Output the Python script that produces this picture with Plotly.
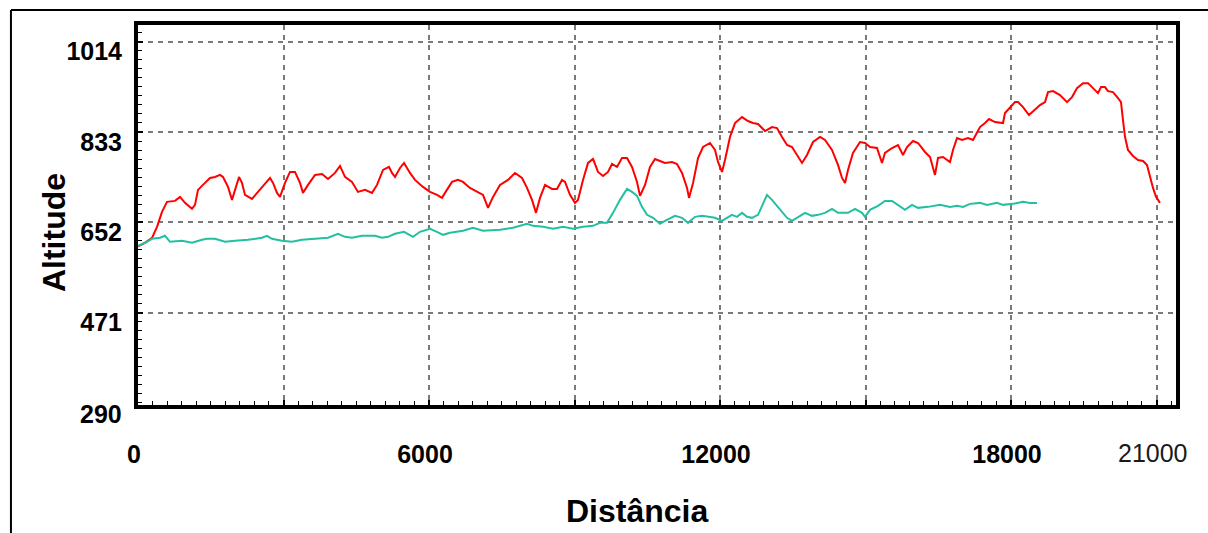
import plotly.graph_objects as go

# Red profile (distance in m, altitude in m)
red_x = [0, 144, 289, 392, 495, 598, 763, 866, 969, 1113,
         1175, 1237, 1340, 1485, 1588, 1691, 1753, 1856, 1938, 2000,
         2083, 2144, 2206, 2351, 2474, 2619, 2722, 2784, 2866, 2928,
         3031, 3134, 3237, 3340, 3402, 3505, 3650, 3794, 3918, 4062,
         4165, 4268, 4412, 4536, 4681, 4825, 4928, 5052, 5175, 5237,
         5299, 5402, 5485, 5608, 5711, 5876, 6021, 6165, 6268, 6330,
         6474, 6598, 6701, 6845, 6990, 7114, 7217, 7320, 7464, 7629,
         7773, 7918, 8021, 8124, 8206, 8289, 8392, 8536, 8639, 8742,
         8804, 8907, 9010, 9072, 9175, 9279, 9382, 9485, 9588, 9691,
         9773, 9876, 9980, 10083, 10186, 10289, 10351, 10454, 10557, 10660,
         10763, 10866, 11010, 11113, 11217, 11320, 11361, 11444, 11547, 11650,
         11794, 11897, 11959, 12041, 12103, 12206, 12309, 12454, 12577, 12680,
         12784, 12928, 13072, 13175, 13279, 13382, 13485, 13588, 13691, 13794,
         13918, 14062, 14165, 14309, 14433, 14516, 14578, 14639, 14742, 14887,
         14990, 15093, 15237, 15340, 15402, 15547, 15670, 15773, 15856, 15980,
         16083, 16227, 16330, 16433, 16495, 16598, 16742, 16804, 16887, 16990,
         17114, 17217, 17299, 17361, 17464, 17547, 17670, 17835, 17876, 17980,
         18083, 18145, 18248, 18371, 18495, 18598, 18701, 18763, 18866, 19010,
         19155, 19258, 19361, 19485, 19588, 19691, 19794, 19856, 19938, 20000,
         20103, 20206, 20268, 20309, 20351, 20412, 20515, 20619, 20722, 20804,
         20866, 20928, 20990, 21072]
red_y = [604, 611, 621, 643, 673, 693, 695, 703, 691, 679,
         687, 717, 727, 741, 743, 747, 743, 723, 697, 717,
         743, 731, 707, 699, 713, 731, 741, 731, 711, 703,
         731, 753, 753, 731, 711, 727, 747, 749, 739, 751,
         765, 743, 733, 713, 717, 711, 727, 757, 763, 751,
         743, 761, 771, 751, 737, 723, 713, 707, 701, 711,
         733, 737, 733, 721, 713, 707, 681, 703, 727, 737,
         751, 741, 721, 697, 671, 701, 727, 719, 719, 737,
         733, 707, 691, 697, 737, 771, 779, 753, 745, 753,
         769, 763, 781, 781, 763, 733, 705, 727, 763, 779,
         775, 771, 773, 769, 751, 721, 701, 731, 781, 803,
         811, 797, 773, 753, 777, 823, 851, 863, 855, 851,
         849, 835, 843, 841, 823, 807, 803, 787, 771, 787,
         813, 823, 817, 797, 767, 741, 731, 757, 791, 813,
         811, 803, 801, 771, 791, 801, 807, 787, 803, 815,
         811, 793, 783, 747, 781, 783, 773, 797, 821, 817,
         821, 817, 831, 843, 851, 859, 853, 851, 871, 881,
         893, 893, 883, 867, 877, 887, 893, 913, 915, 907,
         893, 903, 921, 931, 931, 921, 911, 923, 923, 915,
         913, 901, 893, 857, 823, 797, 785, 777, 775, 767,
         743, 721, 703, 691]

# Teal profile
teal_x = [0, 144, 289, 454, 557, 660, 907, 1113, 1320, 1423,
          1588, 1794, 2000, 2268, 2557, 2660, 2763, 2969, 3175, 3381,
          3650, 3918, 4124, 4268, 4412, 4619, 4887, 5031, 5155, 5299,
          5485, 5670, 5814, 6021, 6165, 6289, 6433, 6701, 6907, 7114,
          7464, 7732, 8021, 8144, 8351, 8557, 8763, 8969, 9175, 9382,
          9526, 9670, 9794, 9938, 10083, 10186, 10289, 10392, 10495, 10619,
          10763, 10866, 11072, 11217, 11340, 11485, 11629, 11753, 11897, 12041,
          12144, 12247, 12351, 12454, 12557, 12660, 12784, 12887, 12969, 13072,
          13196, 13279, 13382, 13485, 13608, 13753, 13897, 14021, 14165, 14309,
          14433, 14639, 14784, 14928, 14990, 15093, 15258, 15402, 15547, 15670,
          15814, 15959, 16083, 16289, 16412, 16536, 16742, 16887, 17010, 17155,
          17361, 17505, 17711, 17835, 18041, 18248, 18392, 18536]
teal_y = [605, 611, 619, 621, 625, 613, 615, 611, 617, 619,
          619, 613, 615, 617, 621, 625, 619, 615, 613, 617,
          619, 621, 629, 623, 621, 625, 625, 621, 623, 629,
          633, 623, 633, 639, 633, 627, 631, 635, 641, 635,
          637, 641, 649, 645, 643, 639, 643, 639, 643, 645,
          651, 651, 671, 697, 719, 713, 705, 683, 667, 661,
          649, 655, 665, 661, 651, 663, 665, 663, 661, 655,
          661, 667, 663, 671, 663, 661, 667, 691, 707, 697,
          683, 673, 661, 655, 663, 671, 665, 667, 671, 679,
          671, 671, 679, 671, 663, 677, 685, 695, 695, 687,
          677, 687, 681, 683, 685, 687, 683, 685, 683, 689,
          691, 687, 691, 687, 689, 693, 691, 691]

y_grid_ticks = [471, 652, 833, 1014]
y_bottom_label = 290
x_ticks = [0, 3000, 6000, 9000, 12000, 15000, 18000, 21000]
x_ticktext = ["0", "", "6000", "", "12000", "", "18000", ""]

RED = "#ff0000"
TEAL = "#22c0a0"
GRID = "#7a7a7a"
FONT_FAMILY = "Liberation Sans, Arial, sans-serif"
TICKFONT = dict(family=FONT_FAMILY, size=25, color="black", weight="bold")

fig = go.Figure()
fig.add_trace(go.Scatter(x=red_x, y=red_y, mode="lines",
                         line=dict(color=RED, width=2), hoverinfo="skip"))
fig.add_trace(go.Scatter(x=teal_x, y=teal_y, mode="lines",
                         line=dict(color=TEAL, width=2), hoverinfo="skip"))

fig.update_layout(
    width=1208, height=533,
    margin=dict(l=138, r=32, t=25, b=128, pad=0),
    paper_bgcolor="white", plot_bgcolor="white",
    showlegend=False,
)

fig.update_xaxes(
    range=[0, 21402],
    tickmode="array", tickvals=x_ticks, ticktext=x_ticktext,
    ticks="inside", ticklen=5, tickwidth=1.5, tickcolor="black",
    showline=True, linewidth=4, linecolor="black", mirror=True,
    showgrid=True, gridcolor=GRID, gridwidth=1.5, griddash="5px,5px",
    zeroline=False,
    minor=dict(tick0=0, dtick=300, ticks="inside", ticklen=4, tickwidth=1,
               tickcolor="black", showgrid=False),
    tickfont=TICKFONT,
    ticklabelstandoff=24, ticklabelshift=-4,
)
fig.update_yaxes(
    range=[285.9, 1047.5],
    tickmode="array", tickvals=y_grid_ticks, ticktext=[str(v) for v in y_grid_ticks],
    ticks="inside", ticklen=5, tickwidth=1.5, tickcolor="black",
    showline=True, linewidth=4, linecolor="black", mirror=True,
    showgrid=True, gridcolor=GRID, gridwidth=1.5, griddash="5px,5px",
    zeroline=False,
    minor=dict(tick0=290, dtick=18.1, ticks="inside", ticklen=4, tickwidth=1,
               tickcolor="black", showgrid=False),
    tickfont=TICKFONT,
    ticklabelstandoff=7, ticklabelshift=10,
)

# Bottom y label (no grid line drawn there in the reference)
fig.add_annotation(text=str(y_bottom_label), xref="paper", yref="y",
                   x=-0.0135, y=y_bottom_label, xanchor="right", yanchor="middle",
                   yshift=-11, showarrow=False, font=TICKFONT)

# Axis titles
fig.add_annotation(text="Altitude", xref="paper", yref="paper",
                   x=-0.0809, y=0.4526, xanchor="center", yanchor="middle",
                   textangle=-90, showarrow=False,
                   font=dict(family=FONT_FAMILY, size=32, color="black", weight="bold"))
fig.add_annotation(text="Distância", xref="paper", yref="paper",
                   x=0.4807, y=-0.279, xanchor="center", yanchor="middle",
                   showarrow=False,
                   font=dict(family=FONT_FAMILY, size=32, color="black", weight="bold"))
# Last x label in a different (regular) font
fig.add_annotation(text="21000", xref="x", yref="paper",
                   x=21000, y=-0.125, xanchor="center", yanchor="middle",
                   xshift=-4, showarrow=False,
                   font=dict(family=FONT_FAMILY, size=25, color="#1a1a1a"))

# Outer frame lines (top and left)
fig.add_shape(type="line", xref="paper", yref="paper",
              x0=-0.1224, x1=1.04, y0=1.0395, y1=1.0395,
              line=dict(color="black", width=2))
fig.add_shape(type="line", xref="paper", yref="paper",
              x0=-0.1224, x1=-0.1224, y0=1.0395, y1=-0.35,
              line=dict(color="black", width=2))

fig.write_html("out.html",
               config={"displayModeBar": False},
               post_script="document.body.style.margin='0px';document.body.style.overflow='hidden';")
